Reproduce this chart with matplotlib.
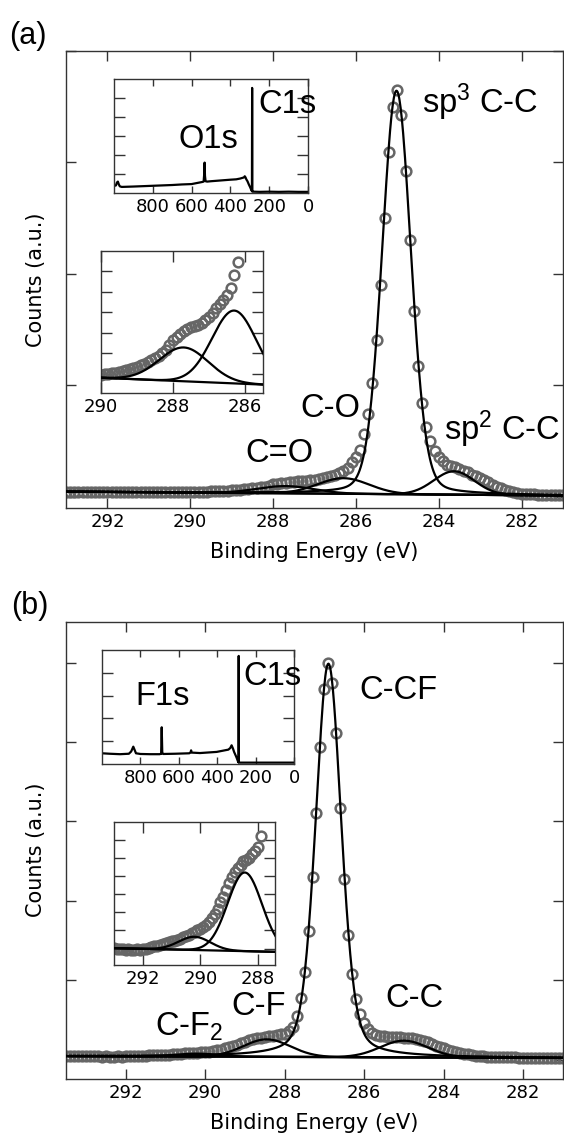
import numpy as np
import matplotlib
matplotlib.use("Agg")
import matplotlib.pyplot as plt

plt.rcParams['font.family'] = ['DejaVu Sans']
plt.rcParams['mathtext.default'] = 'regular'

W, H = 564, 1133

# ---------- panel (a): C1s high resolution, 0.1 eV steps from 293.0 to 281.0 ----------
be_a = np.round(np.arange(293.0, 280.95, -0.1), 1)
counts_a = [
    0.047, 0.046, 0.048, 0.045, 0.047, 0.046, 0.044, 0.047, 0.045, 0.046,
    0.045, 0.047, 0.044, 0.046, 0.045, 0.043, 0.046, 0.044, 0.045, 0.043,
    0.044, 0.045, 0.043, 0.044, 0.046, 0.043, 0.044, 0.045, 0.043, 0.044,
    0.044, 0.046, 0.045, 0.047, 0.048, 0.050, 0.051, 0.053, 0.055, 0.057,
    0.059, 0.062, 0.065, 0.068, 0.072, 0.076, 0.081, 0.086, 0.092, 0.101,
    0.111, 0.117, 0.123, 0.128, 0.132, 0.135, 0.138, 0.140, 0.144, 0.149,
    0.155, 0.163, 0.172, 0.180, 0.188, 0.197, 0.211, 0.236, 0.261, 0.31,
    0.36, 0.42, 0.56, 0.74, 1.02, 1.41, 1.90, 2.50, 3.09, 3.50,
    3.65, 3.43, 2.92, 2.30, 1.67, 1.17, 0.84, 0.63, 0.50, 0.41,
    0.36, 0.32, 0.29, 0.275, 0.265, 0.25, 0.235, 0.22, 0.20, 0.185,
    0.17, 0.15, 0.13, 0.11, 0.09, 0.075, 0.06, 0.05, 0.04, 0.035,
    0.030, 0.026, 0.024, 0.022, 0.020, 0.019, 0.018, 0.017, 0.016, 0.016,
    0.015,
]
# fitted components: sp3 C-C, C-O, C=O, sp2 C-C
peak_a_center = [285.02, 286.30, 287.70, 283.63]
peak_a_height = [3.62, 0.14, 0.065, 0.21]
peak_a_fwhm = [0.82, 1.45, 1.60, 1.15]
peak_a_lorentz = [0.15, 0.0, 0.0, 0.0]
bg_a_ends = [0.047, 0.012]      # linear background at 293 and 281 eV

# survey (a)
survey_a_be = [1000, 990, 985, 980, 975, 970, 960, 900, 850, 800, 750, 700, 650, 600,
               560, 545, 538, 535, 533, 531, 528, 520, 500, 450, 400, 370, 350, 330,
               326, 322, 318, 312, 305, 298, 292, 289, 288, 287, 286, 280, 250, 200,
               150, 100, 50, 0]
survey_a_int = [0.37, 0.40, 0.55, 0.60, 0.45, 0.35, 0.32, 0.34, 0.36, 0.38, 0.40, 0.42, 0.45, 0.47,
                0.55, 0.58, 0.60, 1.00, 1.60, 0.90, 0.62, 0.60, 0.62, 0.66, 0.70, 0.72, 0.76, 0.82,
                0.88, 0.82, 0.72, 0.62, 0.45, 0.30, 0.15, 0.10, 5.53, 0.08, 0.07, 0.07, 0.06, 0.07,
                0.06, 0.07, 0.06, 0.06]

# ---------- panel (b): fluorinated, 0.1 eV steps from 293.5 to 281.0 ----------
be_b = np.round(np.arange(293.5, 280.95, -0.1), 1)
counts_b = [
    0.048, 0.046, 0.049, 0.047, 0.045, 0.047, 0.046, 0.044, 0.045, 0.043,
    0.044, 0.042, 0.043, 0.044, 0.042, 0.045, 0.046, 0.048, 0.050, 0.052,
    0.054, 0.056, 0.058, 0.061, 0.063, 0.066, 0.068, 0.071, 0.074, 0.078,
    0.082, 0.085, 0.089, 0.093, 0.097, 0.100, 0.106, 0.112, 0.120, 0.131,
    0.144, 0.158, 0.175, 0.190, 0.21, 0.23, 0.245, 0.26, 0.27, 0.28,
    0.29, 0.295, 0.30, 0.31, 0.32, 0.33, 0.36, 0.42, 0.55, 0.78,
    1.10, 1.62, 2.30, 3.11, 3.94, 4.67, 4.99, 4.74, 4.11, 3.17,
    2.28, 1.57, 1.08, 0.77, 0.58, 0.47, 0.39, 0.34, 0.31, 0.30,
    0.295, 0.29, 0.29, 0.29, 0.285, 0.28, 0.28, 0.275, 0.265, 0.25,
    0.235, 0.22, 0.20, 0.18, 0.165, 0.145, 0.13, 0.115, 0.10, 0.09,
    0.08, 0.07, 0.06, 0.055, 0.05, 0.045, 0.042, 0.040, 0.038, 0.036,
    0.035, 0.033, 0.032, 0.031, 0.030, 0.029, 0.028, 0.028, 0.027, 0.027,
    0.026, 0.026, 0.025, 0.025, 0.025, 0.025,
]
# fitted components: C-CF, C-F, C-F2, C-C
peak_b_center = [286.90, 288.45, 290.20, 285.00]
peak_b_height = [4.95, 0.22, 0.037, 0.21]
peak_b_fwhm = [0.76, 1.40, 1.30, 1.40]
peak_b_lorentz = [0.3, 0.0, 0.0, 0.0]
bg_b_ends = [0.048, 0.025]      # at 293.5 and 281 eV

survey_b_be = [1000, 960, 906, 860, 848, 837, 823, 800, 750, 700, 692, 689, 686, 680, 620,
               545, 538, 536, 533, 490, 403, 342, 332, 325, 318, 312, 300, 292, 289, 288,
               287, 280, 200, 100, 0]
survey_b_int = [0.47, 0.45, 0.43, 0.45, 0.55, 0.76, 0.47, 0.44, 0.43, 0.43, 0.45, 1.61, 0.46, 0.44, 0.45,
                0.47, 0.52, 0.60, 0.50, 0.48, 0.53, 0.63, 0.70, 0.82, 0.68, 0.53, 0.30, 0.12, 0.07, 4.74,
                0.07, 0.06, 0.06, 0.06, 0.06]

CIRC = '#666666'
SPINE = '#333333'


def box(l, t, r, b):
    return [l / W, 1 - b / H, (r - l) / W, (b - t) / H]


def pvoigt(x, c, h, w, eta):
    u = (x - c) / w
    return h * ((1 - eta) * np.exp(-4 * np.log(2) * u ** 2) + eta / (1 + 4 * u ** 2))


def style(ax, lw=1.0, xlen=7, ylen=7, size=13):
    for s in ax.spines.values():
        s.set_color(SPINE)
        s.set_linewidth(lw)
    ax.tick_params(axis='both', direction='in', top=True, right=True, colors=SPINE,
                   labelcolor='black', labelsize=size, width=1.0)
    ax.tick_params(axis='x', length=xlen)
    ax.tick_params(axis='y', length=ylen, labelleft=False)


def draw_spectrum(ax, be, counts, centers, heights, fwhm, lor, bg_ends, xlo, show=None):
    xf = np.linspace(xlo, 281.0, 800)
    bg = np.interp(xf, [281.0, xlo], [bg_ends[1], bg_ends[0]])
    ax.plot(be, counts, 'o', mfc='none', mec=CIRC, ms=7, mew=1.8, zorder=2)
    ax.plot(xf, bg, color='black', lw=1.6, zorder=3)
    idx = range(len(centers)) if show is None else show
    for i in idx:
        ax.plot(xf, bg + pvoigt(xf, centers[i], heights[i], fwhm[i], lor[i]),
                color='black', lw=1.6, zorder=3)


fig = plt.figure(figsize=(W / 100, H / 100), dpi=100)
annot = dict(family='Liberation Sans', fontsize=23.5, ha='left', va='baseline')

# ================= (a) =================
ax = fig.add_axes(box(66, 51, 563, 508))
draw_spectrum(ax, be_a, counts_a, peak_a_center, peak_a_height, peak_a_fwhm,
              peak_a_lorentz, bg_a_ends, 293.0)
ax.set_xlim(293, 281)
ax.set_ylim(-0.1, 4.0)
ax.set_xticks([292, 290, 288, 286, 284, 282])
ax.set_yticks([0, 1, 2, 3, 4])
style(ax)
ax.text(284.41, 3.44, 'sp$^3$ C-C', **annot)
ax.text(287.35, 0.72, 'C-O', **annot)
ax.text(288.68, 0.31, 'C=O', **annot)
ax.text(283.87, 0.51, 'sp$^2$ C-C', **annot)

ins = fig.add_axes(box(114, 79, 308, 193))
ins.plot(survey_a_be, survey_a_int, color='black', lw=1.6)
ins.set_xlim(1000, 0)
ins.set_ylim(0, 6)
ins.set_xticks([800, 600, 400, 200, 0])
ins.set_yticks([1, 2, 3, 4, 5])
style(ins, xlen=5, ylen=8, size=13)
ins.text(258, 4.2, 'C1s', clip_on=False, zorder=5, **annot)
ins.text(665, 2.37, 'O1s', **annot)

ins2 = fig.add_axes(box(101, 251, 263, 393))
draw_spectrum(ins2, be_a, counts_a, peak_a_center, peak_a_height, peak_a_fwhm,
              peak_a_lorentz, bg_a_ends, 293.0, show=[1, 2])
ins2.set_xlim(290, 285.5)
ins2.set_ylim(0.009, 0.282)
ins2.set_xticks([290, 288, 286])
ins2.set_yticks(np.arange(0.046, 0.25, 0.0395))
style(ins2, xlen=8, ylen=8, size=13)

fig.text(28 / W, 1 - 36 / H, '(a)', family='Liberation Sans', fontsize=22, ha='center', va='center')
fig.text(36 / W, 1 - 279.5 / H, 'Counts (a.u.)', fontsize=15, rotation=90, ha='center', va='center')
fig.text(314.5 / W, 1 - 552 / H, 'Binding Energy (eV)', fontsize=15, ha='center', va='center')

# ================= (b) =================
bx = fig.add_axes(box(66, 622, 563, 1079))
draw_spectrum(bx, be_b, counts_b, peak_b_center, peak_b_height, peak_b_fwhm,
              peak_b_lorentz, bg_b_ends, 293.5)
bx.set_xlim(293.5, 281)
bx.set_ylim(-0.24, 5.51)
bx.set_xticks([292, 290, 288, 286, 284, 282])
bx.set_yticks([0, 1, 2, 3, 4, 5])
style(bx)
bx.text(286.11, 4.54, 'C-CF', **annot)
bx.text(289.33, 0.56, 'C-F', **annot)
bx.text(291.26, 0.31, 'C-F$_2$', **annot)
bx.text(285.48, 0.67, 'C-C', **annot)

jns = fig.add_axes(box(102, 650, 294, 764))
jns.plot(survey_b_be, survey_b_int, color='black', lw=1.6)
jns.set_xlim(1000, 0)
jns.set_ylim(0, 5)
jns.set_xticks([800, 600, 400, 200, 0])
jns.set_yticks([1, 2, 3, 4])
style(jns, xlen=5, ylen=8, size=13)
jns.text(266, 3.46, 'C1s', clip_on=False, zorder=5, **annot)
jns.text(828, 2.59, 'F1s', **annot)

jns2 = fig.add_axes(box(114, 822, 275, 965))
draw_spectrum(jns2, be_b, counts_b, peak_b_center, peak_b_height, peak_b_fwhm,
              peak_b_lorentz, bg_b_ends, 293.5, show=[1, 2])
jns2.set_xlim(293, 287.4)
jns2.set_ylim(0.0, 0.40)
jns2.set_xticks([292, 290, 288])
jns2.set_yticks(np.arange(0.046, 0.36, 0.0507))
style(jns2, xlen=8, ylen=8, size=13)

fig.text(30 / W, 1 - 606 / H, '(b)', family='Liberation Sans', fontsize=22, ha='center', va='center')
fig.text(36 / W, 1 - 850 / H, 'Counts (a.u.)', fontsize=15, rotation=90, ha='center', va='center')
fig.text(314.5 / W, 1 - 1123 / H, 'Binding Energy (eV)', fontsize=15, ha='center', va='center')

fig.savefig('out.png', dpi=100)
